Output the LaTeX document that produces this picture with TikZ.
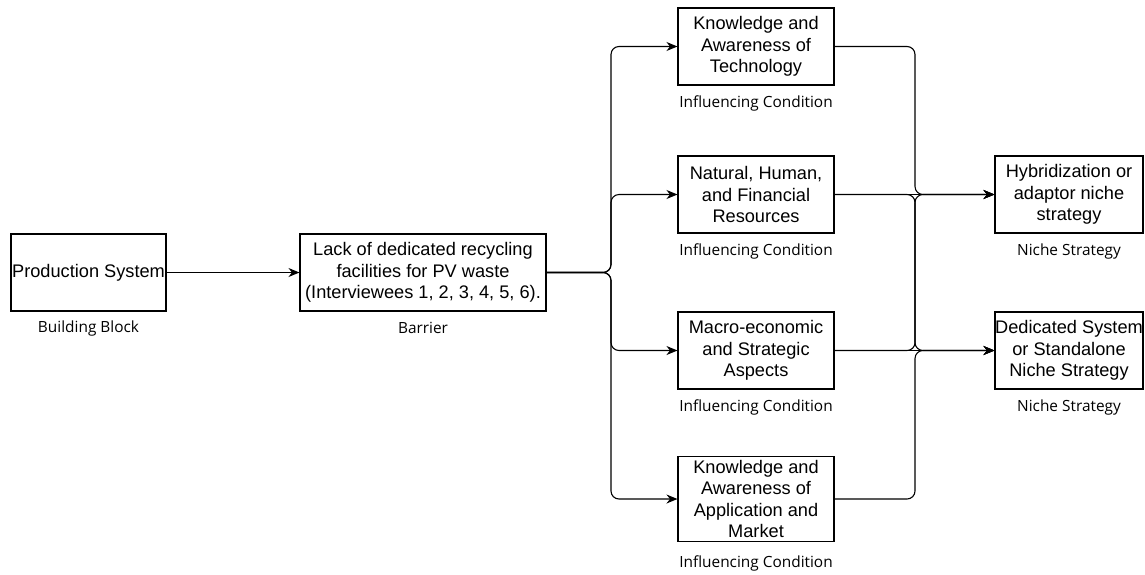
\documentclass[tikz,border=0pt]{standalone}
\usepackage{fontspec}
\setmainfont{Liberation Sans}
\newfontfamily\capfont{Open Sans}
\usetikzlibrary{arrows.meta}
\begin{document}
\begin{tikzpicture}[x=1pt,y=-1pt,
  box/.style={draw, line width=1.1pt, rectangle, inner sep=0pt, align=center,
    minimum height=77pt, font=\fontsize{18.2}{21.6}\selectfont},
  captext/.style={inner sep=0pt, font=\capfont\fontsize{15.4}{18}\selectfont},
  arr/.style={line width=1.1pt, rounded corners=8pt, -{Stealth[length=11pt,width=9pt]}}]
\useasboundingbox (0,0) rectangle (1145,574);
\node[box, minimum width=155pt] (ps) at (88.5,272.5) {Production System};
\node[box, minimum width=246pt] (bar) at (423,272.5) {Lack of dedicated recycling\\facilities for PV waste\\(Interviewees 1, 2, 3, 4, 5, 6).};
\node[box, minimum width=156pt] (ic1) at (756,46.5) {Knowledge and\\Awareness of\\Technology};
\node[box, minimum width=156pt] (ic2) at (756,194.5) {Natural, Human,\\and Financial\\Resources};
\node[box, minimum width=156pt] (ic3) at (756,350.5) {Macro-economic\\and Strategic\\Aspects};
\node[box, minimum width=156pt, minimum height=85pt] (ic4) at (756,499) {Knowledge and\\Awareness of\\Application and\\Market};
\node[box, minimum width=148pt] (ns1) at (1069,194.5) {Hybridization or\\adaptor niche\\strategy};
\node[box, minimum width=148pt] (ns2) at (1069,350.5) {Dedicated System\\or Standalone\\Niche Strategy};
\node[captext] (c0) at (88.5,328) {Building Block};
\node[captext] (c1) at (423,328) {Barrier};
\node[captext] (c2) at (756,103) {Influencing Condition};
\node[captext] (c3) at (756,251) {Influencing Condition};
\node[captext] (c4) at (756,407) {Influencing Condition};
\node[captext] (c5) at (756,563) {Influencing Condition};
\node[captext] (c6) at (1069,251) {Niche Strategy};
\node[captext] (c7) at (1069,407) {Niche Strategy};
\coordinate (tl) at (611,0);
\coordinate (tr) at (915,0);
\draw[arr] (ps.east) -- (bar.west);
\draw[arr] (bar.east) -- (tl |- bar.east) |- (ic1.west);
\draw[arr] (bar.east) -- (tl |- bar.east) |- (ic2.west);
\draw[arr] (bar.east) -- (tl |- bar.east) |- (ic3.west);
\draw[arr] (bar.east) -- (tl |- bar.east) |- (ic4.west);
\draw[arr] (ic1.east) -- (tr |- ic1.east) |- (ns1.west);
\draw[arr] (ic2.east) -- (ns1.west);
\draw[arr] (ic2.east) -- (tr |- ic2.east) |- (ns2.west);
\draw[arr] (ic3.east) -- (tr |- ic3.east) |- (ns1.west);
\draw[arr] (ic3.east) -- (ns2.west);
\draw[arr] (ic4.east) -- (tr |- ic4.east) |- (ns2.west);
\end{tikzpicture}
\end{document}
